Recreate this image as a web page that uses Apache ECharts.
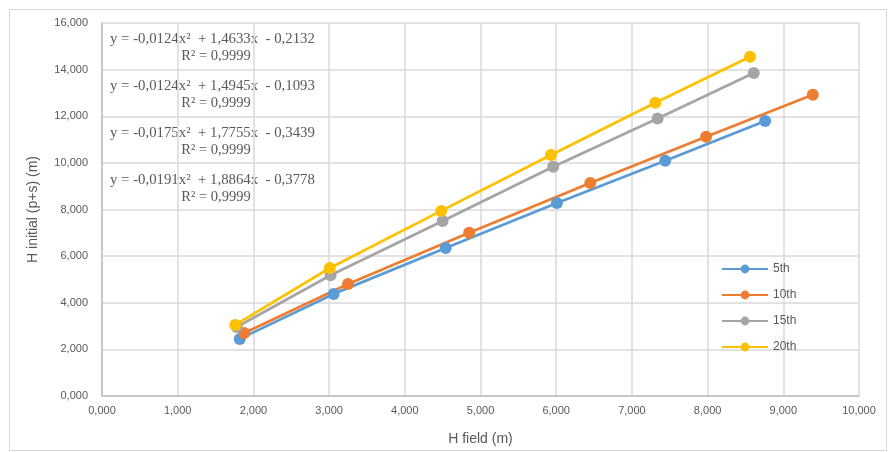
<!DOCTYPE html>
<html><head><meta charset="utf-8">
<script src="https://cdn.jsdelivr.net/npm/echarts@6/dist/echarts.min.js"></script>
<style>html,body{margin:0;padding:0;background:#fff}#c{width:896px;height:452px}</style>
</head><body><div id="c"></div>
<script>
const seriesNames = ['5th', '10th', '15th', '20th'];
const x5th  = [1.82, 3.06, 4.54, 6.01, 7.44, 8.76];
const y5th  = [2.45, 4.38, 6.35, 8.28, 10.09, 11.80];
const x10th = [1.88, 3.25, 4.85, 6.45, 7.98, 9.39];
const y10th = [2.70, 4.80, 7.00, 9.14, 11.12, 12.92];
const x15th = [1.78, 3.02, 4.50, 5.96, 7.34, 8.61];
const y15th = [2.96, 5.18, 7.51, 9.83, 11.90, 13.86];
const x20th = [1.76, 3.01, 4.48, 5.93, 7.31, 8.56];
const y20th = [3.05, 5.49, 7.94, 10.34, 12.58, 14.55];
const colors = ['#5B9BD5', '#ED7D31', '#A5A5A5', '#FFC000'];
const equations = [
  'y = -0,0124x²  + 1,4633x  - 0,2132',
  'y = -0,0124x²  + 1,4945x  - 0,1093',
  'y = -0,0175x²  + 1,7755x  - 0,3439',
  'y = -0,0191x²  + 1,8864x  - 0,3778'
];
const rSquared = ['R² = 0,9999', 'R² = 0,9999', 'R² = 0,9999', 'R² = 0,9999'];

const xs = [x5th, x10th, x15th, x20th];
const ys = [y5th, y10th, y15th, y20th];
const fmt = v => v.toFixed(3).replace('.', ',');
const labelFont = '"Liberation Sans Narrow", "Liberation Sans", sans-serif';

const chart = echarts.init(document.getElementById('c'));
const graphics = [{
  type: 'rect', shape: {x: 9.5, y: 9.5, width: 877, height: 441},
  style: {fill: 'none', stroke: '#d9d9d9', lineWidth: 1}, silent: true
}];
equations.forEach((e, i) => {
  graphics.push({type: 'text', x: 110, y: 32 + i * 47,
    style: {text: e, font: '14.8px "Liberation Serif", serif', fill: '#595959'}});
  graphics.push({type: 'text', x: 216, y: 49 + i * 47,
    style: {text: rSquared[i], font: '14.5px "Liberation Serif", serif', fill: '#595959', textAlign: 'center'}});
});

chart.setOption({
  animation: false,
  grid: {left: 102, right: 37, top: 23, bottom: 56},
  legend: {
    data: seriesNames, orient: 'vertical', left: 716, top: 258, itemGap: 14,
    itemWidth: 46, itemHeight: 11,
    textStyle: {color: '#595959', fontSize: 12, fontFamily: labelFont}
  },
  xAxis: {
    type: 'value', min: 0, max: 10, interval: 1,
    name: 'H field (m)', nameLocation: 'middle', nameGap: 36,
    nameTextStyle: {color: '#595959', fontSize: 14, fontFamily: labelFont},
    axisLine: {show: true, lineStyle: {color: '#bfbfbf', width: 1.5}},
    axisTick: {show: false},
    axisLabel: {formatter: fmt, color: '#595959', fontSize: 11, fontFamily: labelFont, margin: 9},
    splitLine: {show: true, lineStyle: {color: '#d9d9d9', width: 1.5}}
  },
  yAxis: {
    type: 'value', min: 0, max: 16, interval: 2,
    name: 'H initial (p+s) (m)', nameLocation: 'middle', nameGap: 62, nameRotate: 90,
    nameTextStyle: {color: '#595959', fontSize: 14, fontFamily: labelFont},
    axisLine: {show: true, lineStyle: {color: '#bfbfbf', width: 1.5}},
    axisTick: {show: false},
    axisLabel: {formatter: fmt, color: '#595959', fontSize: 11, fontFamily: labelFont, margin: 14},
    splitLine: {show: true, lineStyle: {color: '#d9d9d9', width: 1.5}}
  },
  graphic: graphics,
  series: seriesNames.map((n, i) => ({
    name: n, type: 'line',
    data: xs[i].map((x, j) => [x, ys[i][j]]),
    symbol: 'circle', symbolSize: 12,
    itemStyle: {color: colors[i]},
    lineStyle: {color: colors[i], width: 2.75}
  }))
});
</script></body></html>
